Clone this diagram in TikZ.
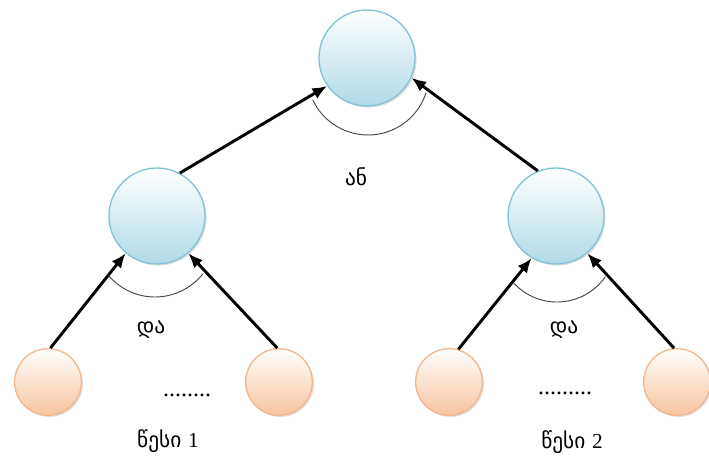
\documentclass[tikz,border=0pt]{standalone}
\usepackage{fontspec}
\setmainfont{Liberation Serif}
\newfontfamily\geo{DejaVu Sans}
\usetikzlibrary{arrows.meta,shadows}
\definecolor{blueedge}{RGB}{130,196,214}
\definecolor{bluefill}{RGB}{176,218,230}
\definecolor{peachedge}{RGB}{244,182,140}
\definecolor{peachfill}{RGB}{248,196,158}
\definecolor{arcgray}{RGB}{70,70,70}
\tikzset{
  bignode/.style={circle, minimum size=72pt, inner sep=0pt, line width=1pt,
    draw=blueedge, top color=white, bottom color=bluefill,
    drop shadow={shadow xshift=1.2pt, shadow yshift=-1.2pt, opacity=0.25}},
  leafnode/.style={circle, minimum size=50pt, inner sep=0pt, line width=1pt,
    draw=peachedge, top color=white, bottom color=peachfill,
    drop shadow={shadow xshift=1.2pt, shadow yshift=-1.2pt, opacity=0.25}},
  arrowline/.style={line width=2.2pt, -{Latex[length=11pt,width=9pt]}},
  andarc/.style={draw=arcgray, line width=0.7pt},
  lbl/.style={font=\geo\fontsize{16}{18}\selectfont, inner sep=0pt},
  dots/.style={font=\fontsize{18}{20}\selectfont, inner sep=0pt}
}
\begin{document}
\begin{tikzpicture}[x=0.75pt,y=-0.75pt]
\useasboundingbox (0,0) rectangle (709,461);
% nodes
\node[bignode] (t) at (367,58) {};
\node[bignode] (m1) at (157,216) {};
\node[bignode] (m2) at (556,216) {};
\node[leafnode] (b1) at (48,382) {};
\node[leafnode] (b2) at (279,382) {};
\node[leafnode] (b3) at (449,382) {};
\node[leafnode] (b4) at (677,382) {};
% arrows
\draw[arrowline] (b1.86) -- (m1.230);
\draw[arrowline] (b2.93) -- (m1.310);
\draw[arrowline] (b3.74) -- (m2.240);
\draw[arrowline] (b4.95) -- (m2.310);
\draw[arrowline] (m1.62) -- (t.215);
\draw[arrowline] (m2.112) -- (t.336);
% and/or arcs
\draw[andarc] (368,74) ++(155:61) arc[start angle=155, end angle=18, radius=61];
\draw[andarc] (155,236) ++(139:61) arc[start angle=139, end angle=38, radius=61];
\draw[andarc] (557,243) ++(137:59) arc[start angle=137, end angle=35, radius=59];
% labels
\node[lbl] (or) at (356,177) {ან};
\node[lbl] (and1) at (151,330) {და};
\node[lbl] (and2) at (564,330) {და};
\node[dots] (d1) at (187,395) {........};
\node[dots] (d2) at (565,393) {.........};
\node[lbl] (r1) at (168,441) {წესი {\rmfamily 1}};
\node[lbl] (r2) at (572,442) {წესი {\rmfamily 2}};
\end{tikzpicture}
\end{document}
